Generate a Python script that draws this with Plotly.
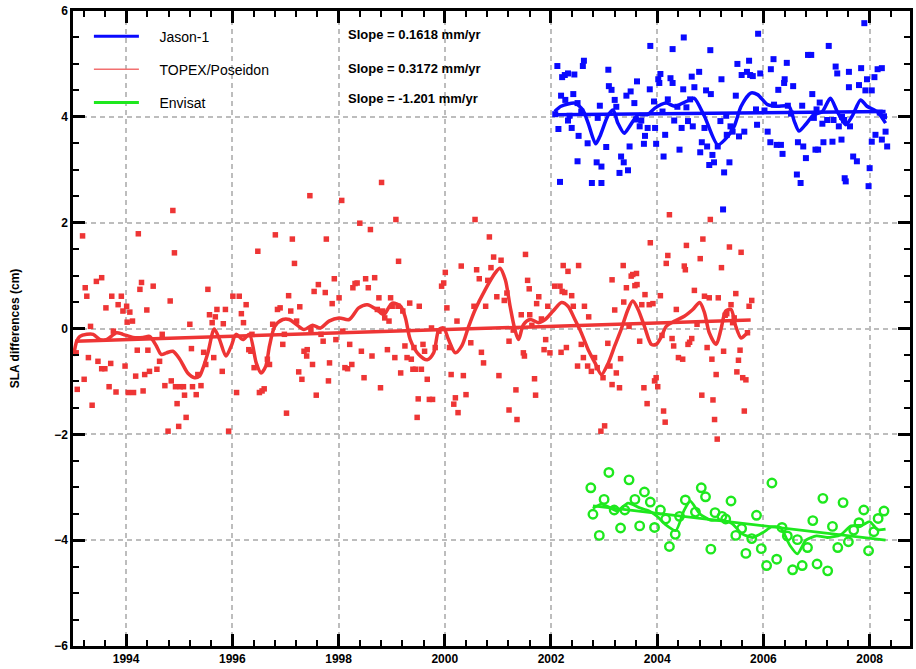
import plotly.graph_objects as go

# ---------------- TOPEX/Poseidon ----------------
topex_t = [1993.08,1993.06,1993.18,1993.23,1993.26,1993.29,1993.33,1993.21,1993.36,1993.44,1993.54,1993.47,1993.54,1993.62,
1993.60,1993.68,1993.71,1993.73,1993.76,1993.81,1993.85,1993.91,1993.94,1993.98,1994.01,1994.02,1994.04,1994.07,1994.12,
1994.14,1994.18,1994.21,1994.23,1994.26,1994.29,1994.32,1994.35,1994.39,1994.41,1994.44,1994.51,1994.58,1994.63,1994.68,
1994.73,1994.79,1994.83,1994.85,1994.88,1994.91,1994.93,1994.96,1994.99,1995.02,1995.08,1995.10,1995.13,1995.20,1995.23,
1995.25,1995.32,1995.35,1995.41,1995.46,1995.50,1995.54,1995.57,1995.62,1995.65,1995.68,1995.71,1995.81,1995.83,1995.87,
1995.93,1996.01,1996.08,1996.13,1996.17,1996.21,1996.26,1996.31,1996.35,1996.37,1996.41,1996.48,1996.51,1996.56,1996.60,
1996.66,1996.70,1996.76,1996.81,1996.85,1996.90,1996.95,1996.98,1997.02,1997.06,1997.10,1997.13,1997.17,1997.21,1997.25,
1997.27,1997.31,1997.35,1997.40,1997.41,1997.46,1997.48,1997.51,1997.54,1997.58,1997.62,1997.67,1997.71,1997.75,1997.77,
1997.81,1997.83,1997.88,1997.92,1997.95,1998.01,1998.06,1998.08,1998.12,1998.17,1998.21,1998.25,1998.27,1998.31,1998.35,
1998.40,1998.43,1998.48,1998.51,1998.56,1998.60,1998.63,1998.68,1998.73,1998.76,1998.79,1998.81,1998.83,1998.87,1998.92,
1998.95,1998.98,1999.01,1999.06,1999.08,1999.12,1999.13,1999.17,1999.21,1999.25,1999.29,1999.34,1999.37,1999.40,1999.42,
1999.45,1999.48,1999.50,1999.52,1999.56,1999.59,1999.62,1999.67,1999.71,1999.75,1999.77,1999.82,1999.89,1999.94,1999.98,
2000.01,2000.04,2000.09,2000.12,2000.17,2000.20,2000.23,2000.25,
2000.31,2000.35,2000.40,2000.49,2000.55,2000.57,2000.60,2000.65,2000.69,2000.73,2000.77,2000.81,2000.84,2000.87,2000.92,
2000.98,2001.02,2001.06,2001.12,2001.17,2001.21,2001.21,2001.29,2001.34,2001.36,2001.44,2001.48,2001.50,2001.52,2001.56,
2001.59,2001.60,2001.64,2001.69,2001.71,2001.73,2001.77,2001.82,2001.87,2001.90,2001.94,2001.98,2002.07,2002.17,2002.21,
2002.19,2002.23,2002.26,2002.29,2002.32,2002.39,2002.42,2002.50,2002.52,2002.57,2002.61,2002.63,2002.69,2002.71,2002.76,
2002.82,2002.87,2002.94,2002.98,2003.01,2003.07,2003.11,2003.15,2003.15,2003.20,2003.23,2003.29,2003.31,2003.36,2003.37,
2003.42,2003.47,2003.51,2003.54,2003.58,2003.61,2003.62,2003.67,2003.71,2003.75,2003.77,2003.81,2003.85,2003.87,2003.92,
2003.95,2003.98,2004.01,2004.06,2004.09,2004.12,2004.15,2004.17,2004.20,2004.23,2004.28,2004.31,2004.36,2004.40,2004.48,
2004.51,2004.53,2004.55,2004.58,2004.61,2004.65,2004.70,2004.75,2004.81,2004.84,2004.86,2004.89,2004.94,2004.98,2005.00,
2005.03,2005.05,2005.08,2005.11,2005.13,2005.15,2005.21,2005.25,2005.28,2005.31,2005.36,2005.39,2005.42,2005.45,2005.48,
2005.50,2005.53,2005.56,2005.58,2005.61,2005.64,2005.67,2005.70,2005.73,2005.78]
topex_v = [-1.15,-0.46,1.75,0.77,0.61,-0.55,0.04,-0.96,-1.45,0.89,0.96,-0.62,-0.76,0.39,
-0.76,-1.10,-0.66,0.61,-0.05,-1.20,0.45,0.61,0.33,-0.71,0.42,0.12,-1.21,0.31,0.14,
-1.21,-0.90,-0.41,1.79,0.74,0.87,-1.18,-0.87,0.35,-0.41,-0.81,0.80,-0.77,-0.62,-0.11,
-1.08,-1.94,0.52,-0.99,2.23,1.43,-1.10,-1.42,-1.85,-1.10,-1.10,-1.26,-1.68,0.08,-0.38,
-1.10,-1.25,-0.87,-1.08,-0.45,-0.68,0.74,0.26,0.11,-0.55,0.22,0.36,-0.81,0.09,0.36,
-1.94,0.61,-1.21,0.61,0.28,0.11,0.45,-0.40,-0.43,-0.11,-0.74,1.46,-1.21,-1.18,-1.14,
-0.58,-0.68,0.08,1.77,0.36,0.39,-0.30,-0.11,-1.60,0.62,0.33,1.69,1.23,0.14,-0.82,
0.41,-0.96,-0.43,-0.52,-0.40,2.51,-0.02,-0.68,0.70,-1.26,0.83,-0.11,-0.24,0.68,1.69,
-0.99,-0.65,0.47,0.94,-0.21,0.58,2.42,-0.05,-0.74,-0.76,-0.30,-0.68,0.77,0.85,0.86,
1.99,-0.43,-0.93,0.94,0.77,1.87,-0.52,0.96,0.36,0.58,-1.12,2.76,0.33,0.20,-0.40,
0.14,0.58,0.42,-0.55,2.06,0.42,1.27,-0.84,0.33,-0.33,-0.55,0.48,-0.58,-0.77,-0.36,
-0.77,-1.68,-1.33,0.42,-0.77,-0.30,-0.43,-0.96,-1.34,0.01,-1.34,-0.36,-0.05,0.80,0.86,
1.06,0.39,-0.36,-0.87,-1.43,-1.31,0.14,-1.59,
1.18,-0.89,-1.25,-0.27,0.42,2.06,1.11,0.94,-0.45,-0.65,0.42,0.91,1.73,1.15,1.35,
0.60,-0.89,1.29,0.53,0.67,-1.54,-0.24,-0.03,-1.16,-1.72,0.26,-0.46,-0.52,1.40,0.91,
0.75,0.26,0.06,-0.95,-1.26,0.47,0.60,0.18,-0.40,-0.21,0.42,-0.46,0.80,0.80,0.70,
-0.45,1.19,0.68,-0.36,1.08,0.62,0.42,-0.71,1.19,-0.30,-0.55,0.42,-0.71,0.22,-0.81,
-0.55,-0.74,-1.94,-0.93,-1.84,-0.28,-0.71,-1.06,0.92,0.35,-0.84,-1.12,-0.57,1.19,0.50,
0.77,0.04,0.99,1.02,0.81,1.04,0.83,-0.24,0.45,-1.12,0.64,-1.42,0.45,1.62,0.47,
-0.99,-0.93,-1.10,0.62,-0.13,-1.56,-1.77,1.23,1.38,2.15,-0.19,-0.33,0.36,-0.55,-0.58,
1.18,1.11,1.57,-0.30,-0.26,-0.19,0.72,0.08,1.32,-1.26,1.69,0.61,-0.36,0.58,2.06,
-0.58,-1.35,-1.72,-0.87,-2.09,0.58,1.15,-0.43,0.25,0.28,1.54,0.45,0.11,0.20,0.66,
-0.82,-0.60,-0.41,1.44,-0.93,-1.56,-0.97,-0.08,0.42,0.53]

topex_smooth_t = [1993.01,1993.07,1993.13,1993.26,1993.38,1993.51,1993.63,1993.82,1993.94,1994.13,1994.32,1994.44,1994.57,
1994.66,1994.76,1994.88,1995.01,1995.16,1995.29,1995.38,1995.44,1995.54,1995.66,1995.76,1995.88,1995.98,1996.07,1996.20,
1996.32,1996.45,1996.54,1996.63,1996.70,1996.80,1996.95,1997.07,1997.20,1997.35,1997.51,1997.66,1997.82,1998.01,1998.20,
1998.38,1998.54,1998.73,1998.85,1999.01,1999.17,1999.26,1999.35,1999.51,1999.67,1999.79,1999.89,1999.98,2000.07,2000.20,
2000.32,2000.45,2000.57,2000.76,2000.95,2001.04,2001.14,2001.23,2001.32,2001.39,2001.48,2001.61,2001.76,2001.89,2002.04,
2002.20,2002.32,2002.45,2002.57,2002.70,2002.83,2002.95,2003.08,2003.20,2003.32,2003.45,2003.54,2003.64,2003.76,2003.89,
2003.98,2004.08,2004.17,2004.33,2004.51,2004.67,2004.80,2004.89,2004.98,2005.11,2005.20,2005.29,2005.39,2005.48,2005.58,
2005.67,2005.73]
topex_smooth_v = [-0.52,-0.24,-0.15,-0.11,-0.11,-0.21,-0.21,-0.08,-0.11,-0.17,-0.17,-0.15,-0.33,
-0.49,-0.46,-0.43,-0.58,-0.84,-0.93,-0.90,-0.77,-0.46,-0.01,-0.21,-0.52,-0.33,-0.11,-0.21,
-0.11,-0.65,-0.84,-0.71,-0.33,0.04,0.17,0.17,0.08,-0.02,0.06,0.01,0.14,0.20,0.17,
0.39,0.45,0.35,0.26,0.48,0.42,0.20,-0.21,-0.49,-0.59,-0.46,-0.02,0.01,-0.21,-0.46,
-0.33,0.04,0.35,0.73,1.05,1.14,0.92,0.42,-0.02,-0.21,0.07,0.17,0.11,0.17,0.33,
0.49,0.42,0.17,-0.08,-0.40,-0.65,-0.87,-0.65,-0.33,-0.02,0.36,0.52,0.36,0.04,-0.30,
-0.30,-0.15,0.04,0.14,0.23,0.36,0.49,0.30,-0.08,-0.30,-0.02,0.33,0.36,0.04,-0.18,
-0.11,-0.05]
topex_trend_t = [1993.04, 2005.76]
topex_trend_v = [-0.24, 0.16]

# ---------------- Jason-1 ----------------
jason_t = [2002.12,2002.19,2002.14,2002.17,2002.21,2002.26,2002.32,2002.44,2002.27,2002.32,2002.39,2002.42,2002.50,2002.52,
2002.50,2002.60,2002.62,2002.57,2002.69,2002.77,2002.86,2002.92,2002.95,2002.95,2003.04,2003.08,2003.09,2003.14,2003.20,
2003.23,2003.29,2003.32,2003.37,2003.42,2003.45,2003.48,2003.50,2003.57,2003.62,2003.67,2003.70,2003.75,2003.77,2003.82,
2003.86,2003.87,2003.94,2003.96,2003.98,2004.02,2004.04,2004.06,2004.12,2004.15,2004.20,2004.25,2004.29,2004.32,2004.38,
2004.29,2004.42,2004.46,2004.49,2004.50,2004.58,2004.62,2004.65,2004.67,2004.70,2004.79,2004.81,2004.84,2004.89,2004.92,
2004.94,2004.98,2005.00,2005.01,2005.04,2005.07,2005.14,2005.19,2005.21,2005.26,2005.24,2005.31,2005.36,2005.38,2005.42,
2005.48,2005.51,2005.54,2005.59,2005.64,2005.69,2005.73,2005.75,2005.80,2005.86,2005.88,2005.90,2005.94,2006.08,2006.14,
2006.13,2006.19,2006.20,2006.25,2006.28,2006.33,2006.36,2006.39,2006.40,2006.44,2006.46,2006.56,2006.63,2006.65,2006.70,
2006.73,2006.75,2006.80,2006.84,2006.90,2006.92,2006.95,2006.98,2007.03,2007.06,2007.11,2007.13,2007.20,2007.23,2007.30,
2007.32,2007.36,2007.39,2007.42,2007.47,2007.52,2007.53,2007.55,2007.61,2007.61,2007.63,2007.69,2007.76,2007.80,2007.84,
2007.90,2007.92,2007.95,2007.98,2008.00,2008.04,2008.04,2008.09,2008.11,2008.15,2008.23,2008.23,2008.30,2008.33,2008.27,
2002.08,2002.35,2002.88,2003.60,2004.10,2004.55,2005.30,2006.02,2006.52,2007.00,2007.48,2008.19]
jason_v = [4.96,4.40,3.77,2.77,4.75,4.79,4.82,4.80,4.32,3.93,3.79,4.43,4.26,3.64,
3.16,4.96,5.06,4.10,3.50,2.75,3.14,4.21,3.06,2.75,3.43,4.89,4.58,4.51,4.32,
4.19,2.94,3.25,3.14,4.40,2.99,3.44,4.48,4.26,4.67,3.82,3.93,3.49,3.64,3.79,
4.52,5.34,4.29,3.79,3.49,4.71,4.64,4.81,3.25,3.66,4.33,4.73,4.64,3.93,4.19,
5.28,3.38,3.79,4.52,5.50,3.92,4.33,4.76,3.82,4.56,4.85,3.33,3.52,3.79,4.50,
3.44,3.09,5.26,4.43,3.28,3.14,3.44,3.92,4.71,2.95,2.25,3.66,3.14,3.82,3.72,
4.40,5.00,3.63,4.79,3.72,4.85,5.06,4.79,4.77,4.14,3.85,5.57,4.82,3.72,4.90,
3.52,5.09,4.23,3.47,4.51,3.47,3.30,4.64,4.71,5.02,4.21,4.58,2.91,3.52,2.75,
4.21,3.44,3.22,5.17,5.17,4.43,3.98,3.38,3.38,4.27,3.87,3.52,3.94,5.34,3.53,
3.94,4.95,4.82,3.82,3.57,3.94,2.84,2.78,4.85,4.56,3.82,3.25,3.16,4.60,4.92,
5.77,4.50,4.71,2.69,3.03,4.50,3.53,4.75,3.66,4.90,4.92,3.57,3.72,3.44,4.01,
4.05,4.02,3.98,3.95,4.10,4.18,4.02,4.12,4.06,4.14,4.00,4.08]

jason_smooth_t = [2002.07,2002.19,2002.45,2002.60,2002.70,2002.84,2002.92,2003.08,2003.17,2003.26,2003.38,2003.48,2003.64,
2003.82,2003.95,2004.17,2004.33,2004.61,2004.70,2004.89,2005.14,2005.33,2005.45,2005.58,2005.76,2005.89,2006.08,2006.26,
2006.48,2006.58,2006.67,2006.79,2006.95,2007.11,2007.26,2007.39,2007.55,2007.67,2007.83,2007.95,2008.14,2008.30]
jason_smooth_v = [4.10,4.20,4.26,4.13,3.88,3.49,3.63,4.04,4.13,3.88,3.69,3.82,4.04,
4.04,4.16,4.26,4.20,4.32,4.35,4.01,3.47,3.63,3.82,4.20,4.45,4.42,4.23,4.20,
4.20,3.92,3.73,3.85,4.04,4.10,4.35,4.10,3.85,4.01,4.32,4.20,4.10,3.88]
jason_trend_t = [2002.07, 2008.30]
jason_trend_v = [4.04, 4.10]

# ---------------- Envisat ----------------
envisat_t = [2002.75,2002.79,2002.91,2003.00,2003.09,2003.19,2003.31,2003.39,2003.47,2003.58,2003.67,2003.76,2003.87,2003.95,
2004.06,2004.16,2004.23,2004.34,2004.42,2004.53,2004.72,2004.83,2004.91,2005.01,2005.09,2005.22,2005.29,2005.39,2005.48,
2005.59,2005.67,2005.78,2005.87,2005.96,2006.06,2006.16,2006.25,2006.35,2006.45,2006.55,2006.64,2006.73,2006.83,2006.93,
2007.01,2007.12,2007.21,2007.30,2007.40,2007.50,2007.60,2007.70,2007.80,2007.89,2007.98,2008.08,2008.16,2008.27]
envisat_v = [-3.01,-3.51,-3.91,-3.23,-2.72,-3.43,-3.77,-3.43,-2.86,-3.23,-3.73,-3.09,-3.28,-3.76,
-3.43,-3.60,-4.12,-3.89,-3.55,-3.24,-3.47,-3.01,-3.18,-4.17,-3.48,-3.55,-3.60,-3.26,-3.91,
-3.78,-4.25,-3.97,-3.53,-4.16,-4.48,-2.92,-4.36,-3.76,-3.92,-4.56,-3.99,-4.48,-4.14,-3.63,
-4.45,-3.21,-4.58,-3.74,-4.14,-3.29,-4.03,-3.81,-3.67,-3.43,-4.20,-3.84,-3.59,-3.45]

envisat_smooth_t = [2002.79,2002.95,2003.10,2003.25,2003.45,2003.65,2003.85,2004.00,2004.15,2004.35,2004.50,2004.62,2004.80,
2005.00,2005.20,2005.40,2005.60,2005.80,2006.00,2006.15,2006.32,2006.50,2006.64,2006.80,2007.00,2007.20,2007.45,
2007.65,2007.85,2008.00,2008.15,2008.30]
envisat_smooth_v = [-3.40,-3.32,-3.38,-3.45,-3.30,-3.38,-3.45,-3.55,-3.70,-3.82,-3.45,-3.26,-3.50,
-3.62,-3.62,-3.68,-3.88,-3.95,-3.85,-3.75,-3.76,-4.10,-4.26,-4.00,-3.92,-3.95,-3.90,
-3.73,-3.72,-3.65,-3.80,-3.79]
envisat_trend_t = [2002.79, 2008.30]
envisat_trend_v = [-3.35, -4.00]

legend_names = ["Jason-1", "TOPEX/Poseidon", "Envisat"]
slope_labels = ["Slope = 0.1618 mm/yr", "Slope = 0.3172 mm/yr", "Slope = -1.201 mm/yr"]

BLUE = "#0a0aff"
RED = "#ee3535"
RED_LEG = "#f27070"
GREEN = "#1ee81e"

fig = go.Figure()

# scatter points
fig.add_trace(go.Scatter(x=topex_t, y=topex_v, mode="markers", showlegend=False,
                         marker=dict(symbol="square", size=5.5, color=RED)))
fig.add_trace(go.Scatter(x=jason_t, y=jason_v, mode="markers", showlegend=False,
                         marker=dict(symbol="square", size=6, color=BLUE)))
fig.add_trace(go.Scatter(x=envisat_t, y=envisat_v, mode="markers", showlegend=False,
                         marker=dict(symbol="circle-open", size=8.5, color=GREEN, line=dict(width=2.4, color=GREEN))))

# smoothed curves and trends
fig.add_trace(go.Scatter(x=topex_smooth_t, y=topex_smooth_v, mode="lines", showlegend=False,
                         line=dict(color=RED, width=3.5, shape="spline", smoothing=0.8)))
fig.add_trace(go.Scatter(x=topex_trend_t, y=topex_trend_v, mode="lines", showlegend=False,
                         line=dict(color=RED, width=3.5)))
fig.add_trace(go.Scatter(x=jason_smooth_t, y=jason_smooth_v, mode="lines", showlegend=False,
                         line=dict(color=BLUE, width=3.5, shape="spline", smoothing=0.7)))
fig.add_trace(go.Scatter(x=jason_trend_t, y=jason_trend_v, mode="lines", showlegend=False,
                         line=dict(color=BLUE, width=3.5)))
fig.add_trace(go.Scatter(x=envisat_smooth_t, y=envisat_smooth_v, mode="lines", showlegend=False,
                         line=dict(color=GREEN, width=2.8, shape="spline", smoothing=0.6)))
fig.add_trace(go.Scatter(x=envisat_trend_t, y=envisat_trend_v, mode="lines", showlegend=False,
                         line=dict(color=GREEN, width=2.8)))

# legend entries
leg_styles = [(BLUE, 3), (RED_LEG, 1.5), (GREEN, 3)]
pad = "\u00a0" * 4
for i, (name, (c, w)) in enumerate(zip(legend_names, leg_styles)):
    fig.add_trace(go.Scatter(x=[None], y=[None], mode="lines", name=pad + name,
                             legendgroup=f"g{i}", line=dict(color=c, width=w)))

# slope annotations
for i, s in enumerate(slope_labels):
    fig.add_annotation(x=0.326, y=[0.963, 0.910, 0.862][i], xref="paper", yref="paper",
                       text=s, showarrow=False, xanchor="left", yanchor="middle",
                       font=dict(family="Liberation Sans", size=13, color="black", weight="bold"))

axis_common = dict(
    showline=True, linecolor="black", linewidth=2.5, mirror="ticks",
    ticks="inside", ticklen=12, tickwidth=2.5, tickcolor="black",
    showgrid=True, gridcolor="#bdbdbd", gridwidth=1.6, griddash="5px,4px",
    zeroline=False, layer="above traces",
    tickfont=dict(family="Liberation Sans", size=12, color="black", weight="bold"),
)

fig.update_xaxes(range=[1993.0, 2008.76], tick0=1994, dtick=2,
                 minor=dict(ticks="inside", ticklen=6, tickwidth=2, tickcolor="black", dtick=0.4, tick0=1994, showgrid=False),
                 **axis_common)
fig.update_yaxes(range=[-6, 6], tick0=0, dtick=2,
                 minor=dict(ticks="inside", ticklen=6, tickwidth=2, tickcolor="black", dtick=0.5, tick0=0, showgrid=False),
                 title=dict(text="SLA differences (cm)", standoff=32,
                            font=dict(family="Liberation Sans", size=12, color="black", weight="bold")),
                 **axis_common)

fig.update_layout(
    width=916, height=669,
    margin=dict(l=73, r=3, t=11, b=22),
    paper_bgcolor="white", plot_bgcolor="white",
    showlegend=True,
    legend=dict(x=0.019, y=0.985, xanchor="left", yanchor="top", bgcolor="rgba(0,0,0,0)",
                font=dict(family="Liberation Sans", size=14, color="black"),
                tracegroupgap=12, itemwidth=45),
)

fig.write_html("out.html")
